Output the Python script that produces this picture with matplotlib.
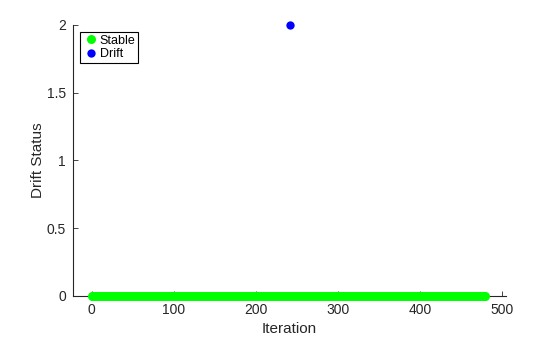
import numpy as np
import matplotlib.pyplot as plt

plt.rcParams['font.family'] = ['Liberation Sans', 'DejaVu Sans']

# drift status per iteration (0 = stable, 2 = drift)
iterations = list(range(0, 480))
drift_iter = [241]
drift_value = [2]
stable_iter = [i for i in iterations if i not in drift_iter]
stable_value = [0] * len(stable_iter)

x_ticks = [0, 100, 200, 300, 400, 500]
y_ticks = [0, 0.5, 1, 1.5, 2]
y_ticklabels = ['0', '0.5', '1', '1.5', '2']

fig = plt.figure(figsize=(5.6, 3.37), dpi=100)
ax = fig.add_axes([0.130, 0.122, 0.774, 0.804])

ax.plot(stable_iter, stable_value, 'o', color='#00ff00', markersize=6.5,
        markeredgewidth=0, label='Stable', clip_on=False, zorder=3)
ax.plot(drift_iter, drift_value, 'o', color='#0000ff', markersize=6,
        markeredgewidth=0, label='Drift', clip_on=False, zorder=3)

ax.set_xlim(-23, 505)
ax.set_ylim(0, 2)
ax.set_xticks(x_ticks)
ax.set_yticks(y_ticks)
ax.set_yticklabels(y_ticklabels)
ax.tick_params(direction='in', length=3.5, width=0.6, labelsize=10,
               colors='#262626', pad=5)
for s in ['top', 'right']:
    ax.spines[s].set_visible(False)
for s in ['left', 'bottom']:
    ax.spines[s].set_linewidth(0.8)
    ax.spines[s].set_color('#262626')

ax.set_xlabel('Iteration', fontsize=11, color='#262626', labelpad=4)
ax.set_ylabel('Drift Status', fontsize=11, color='#262626', labelpad=1)

leg = ax.legend(loc='upper left', bbox_to_anchor=(0.017, 0.975), fontsize=9,
                fancybox=False, framealpha=1, edgecolor='black',
                handletextpad=0.1, handlelength=1.2, borderpad=0.25,
                labelspacing=0.1, borderaxespad=0)
leg.get_frame().set_linewidth(0.8)

fig.savefig('out.png', dpi=100)
